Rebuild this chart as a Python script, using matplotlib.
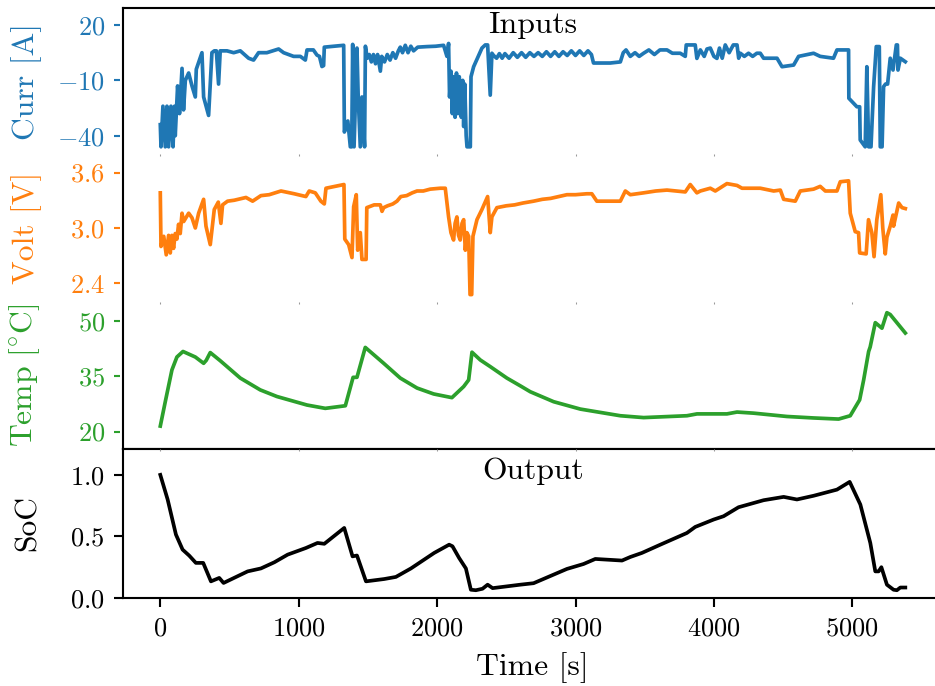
import matplotlib
matplotlib.use('Agg')
from matplotlib import pyplot as plt

plt.rcParams['font.family'] = 'serif'
plt.rcParams['font.serif'] = ['cmr10']
plt.rcParams['mathtext.fontset'] = 'cm'
plt.rcParams['axes.formatter.use_mathtext'] = True

# current [A], (time [s], value)
curr = [(0, -34), (5, -46), (19, -24), (36, -46), (48, -24), (60, -46), (77, -24), (92, -46),
        (103, -24), (108, -40), (125, -13), (139, -28), (157, -3.5), (168, -26), (181, -10),
        (205, -6), (229, -13), (253, -19), (260, -4), (301, 5), (313, -19), (349, -29), (373, 5),
        (390, 6), (405, 6), (421, -12), (433, 6), (482, 6), (530, 5), (578, 6), (638, 2), (674, 1),
        (710, 5), (770, 5), (855, 7), (891, 5), (963, 3), (1012, 3), (1048, 1), (1060, 6.5),
        (1106, 6.5), (1132, 3.7), (1150, 3), (1168, -2.5), (1180, -2), (1185, 8), (1325, 9),
        (1330, -38), (1355, -32), (1373, -46), (1383, -46), (1390, 9.5), (1400, -46), (1421, 7.5),
        (1430, -19), (1445, -46), (1457, -19), (1476, -46), (1482, 8.5), (1495, 2), (1510, 4),
        (1525, 0), (1540, 4), (1555, -1), (1570, 4), (1590, -5), (1600, 3), (1620, 0), (1640, 4),
        (1660, 1), (1680, 5), (1700, 2), (1720, 6), (1734, 8), (1750, 5), (1770, 9), (1790, 5),
        (1810, 8.5), (1830, 6), (1860, 8), (1927, 8.3), (1990, 8.5), (2047, 9), (2071, 3),
        (2083, 10), (2090, -19), (2100, -5), (2110, -28), (2120, -8), (2130, -30), (2140, -6),
        (2150, -28), (2160, -8), (2175, -30), (2185, -10), (2192, -35), (2200, -12), (2210, -40),
        (2216, -46), (2240, -46), (2245, -8), (2264, -2.6), (2324, 7.5), (2348, 9.2), (2365, 9.2),
        (2384, -18), (2396, 4.7), (2408, 3.5), (2430, 2), (2450, 4.5), (2470, 2), (2490, 4.5),
        (2520, 2), (2550, 5), (2580, 2.5), (2610, 5), (2640, 2.5), (2670, 5), (2700, 3), (2730, 5),
        (2760, 3), (2790, 5.5), (2820, 3), (2850, 5.5), (2880, 3), (2910, 5.5), (2940, 3.5),
        (2970, 6), (3000, 3.5), (3030, 6), (3060, 3.5), (3090, 6), (3115, 4), (3130, -0.6),
        (3251, -0.6), (3324, 0), (3345, 5), (3365, 6.5), (3396, 3), (3430, 5), (3460, 3),
        (3492, 4.7), (3530, 6.5), (3570, 4), (3610, 6.5), (3661, 6.5), (3700, 4.7), (3757, 4.7),
        (3793, 3), (3800, 9.2), (3865, 9.2), (3877, 1.9), (3902, 6.5), (3930, 3), (3950, 7),
        (3974, 7.5), (4000, 3), (4022, 1.9), (4040, 7.5), (4060, 2), (4082, 9.2), (4110, 5),
        (4140, 9.2), (4167, 9.2), (4179, 2), (4191, 4.7), (4220, 3), (4250, 4.7), (4280, 3),
        (4310, 4.7), (4335, 4.7), (4359, 2), (4456, 2), (4492, -2.6), (4576, -1.7), (4612, 3),
        (4720, 4.7), (4768, 3), (4864, 2), (4889, 6.5), (4973, 6.5), (4975, -19.7), (5033, -24.3),
        (5053, -24.3), (5057, -42.3), (5093, -46), (5105, -2.6), (5118, -46), (5135, -46),
        (5154, -13.4), (5173, 8.3), (5195, 8.3), (5202, -46), (5215, -46), (5226, -13.4),
        (5240, -12), (5255, -12), (5274, 2), (5294, -4.4), (5318, 9.2), (5326, 9.2), (5330, -4.4),
        (5347, 2), (5383, 0.1)]

# voltage [V]
volt = [(0, 3.38), (5, 2.80), (25, 2.91), (43, 2.71), (60, 2.92), (72, 2.73), (84, 2.92), (96, 2.78),
        (108, 2.94), (120, 2.88), (132, 3.04), (144, 2.94), (157, 3.16), (169, 3.07), (205, 3.16),
        (229, 3.11), (253, 3.00), (277, 3.16), (313, 3.31), (330, 3.02), (361, 2.82), (390, 3.20),
        (419, 3.28), (438, 3.05), (450, 3.25), (486, 3.29), (534, 3.30), (619, 3.33), (667, 3.29),
        (727, 3.35), (787, 3.36), (872, 3.40), (968, 3.37), (1052, 3.34), (1076, 3.40),
        (1120, 3.38), (1160, 3.29), (1185, 3.26), (1197, 3.43), (1327, 3.47), (1333, 2.88),
        (1361, 2.82), (1385, 2.68), (1397, 3.23), (1416, 3.36), (1426, 2.76), (1445, 2.95),
        (1457, 2.66), (1487, 2.66), (1492, 3.22), (1545, 3.25), (1590, 3.25), (1602, 3.18),
        (1614, 3.22), (1642, 3.24), (1680, 3.26), (1710, 3.29), (1738, 3.34), (1780, 3.35),
        (1820, 3.38), (1855, 3.40), (1900, 3.40), (1950, 3.42), (2023, 3.43), (2059, 3.43),
        (2083, 3.12), (2100, 2.95), (2119, 2.87), (2130, 3.05), (2143, 3.12), (2155, 2.92),
        (2167, 2.87), (2180, 3.05), (2192, 3.09), (2204, 2.76), (2215, 2.95), (2228, 2.91),
        (2238, 2.28), (2250, 2.28), (2259, 2.91), (2288, 3.09), (2324, 3.20), (2365, 3.34),
        (2384, 2.95), (2396, 3.12), (2432, 3.22), (2500, 3.24), (2560, 3.25), (2620, 3.27),
        (2697, 3.29), (2760, 3.31), (2820, 3.32), (2880, 3.34), (2938, 3.36), (3000, 3.36),
        (3082, 3.37), (3118, 3.37), (3154, 3.29), (3275, 3.29), (3324, 3.29), (3360, 3.40),
        (3396, 3.36), (3492, 3.38), (3580, 3.40), (3661, 3.41), (3793, 3.39), (3829, 3.47),
        (3877, 3.38), (3902, 3.40), (3974, 3.43), (4010, 3.40), (4094, 3.48), (4167, 3.46),
        (4203, 3.43), (4335, 3.43), (4432, 3.40), (4480, 3.41), (4504, 3.31), (4588, 3.29),
        (4624, 3.40), (4720, 3.42), (4768, 3.45), (4805, 3.40), (4889, 3.40), (4913, 3.50),
        (4973, 3.51), (4985, 3.16), (5021, 2.96), (5045, 2.95), (5053, 2.73), (5100, 2.72),
        (5117, 3.09), (5141, 2.95), (5157, 2.69), (5177, 3.09), (5206, 3.36), (5220, 3.00),
        (5238, 2.72), (5250, 2.90), (5274, 3.02), (5294, 3.14), (5298, 3.02), (5335, 3.27),
        (5359, 3.22), (5383, 3.21)]

# temperature [C]
temp = [(0, 21.5), (36, 28.1), (84, 36.7), (120, 40.2), (164, 41.7), (253, 40.2), (313, 38.5),
        (332, 39.3), (361, 41.4), (433, 39.2), (578, 34.5), (722, 31.3), (843, 29.5), (1060, 27.2),
        (1192, 26.3), (1337, 27.0), (1393, 34.7), (1421, 34.7), (1481, 42.8), (1614, 38.5),
        (1734, 34.5), (1855, 31.8), (1975, 30.2), (2107, 29.2), (2192, 32.2), (2228, 34.0),
        (2252, 41.5), (2312, 39.4), (2384, 37.6), (2504, 34.5), (2601, 32.4), (2673, 30.8),
        (2842, 28.1), (3035, 26.1), (3324, 24.3), (3492, 23.8), (3805, 24.3), (3878, 24.8),
        (4094, 24.8), (4167, 25.3), (4287, 25.0), (4528, 24.1), (4720, 23.7), (4901, 23.4),
        (4985, 24.3), (5053, 28.6), (5082, 34.0), (5118, 41.7), (5129, 42.9), (5166, 49.5),
        (5214, 48.0), (5250, 52.2), (5274, 51.7), (5383, 46.7)]

# state of charge
soc = [(0, 1.0), (53, 0.80), (113, 0.515), (161, 0.393), (209, 0.344), (257, 0.285), (310, 0.285),
       (366, 0.135), (426, 0.163), (457, 0.122), (631, 0.216), (727, 0.24), (824, 0.29),
       (920, 0.352), (1052, 0.406), (1136, 0.447), (1185, 0.44), (1329, 0.569), (1389, 0.338),
       (1421, 0.345), (1486, 0.135), (1618, 0.154), (1702, 0.171), (1811, 0.24), (1979, 0.366),
       (2087, 0.433), (2111, 0.42), (2159, 0.325), (2208, 0.24), (2244, 0.067), (2280, 0.063),
       (2328, 0.075), (2365, 0.108), (2401, 0.08), (2601, 0.108), (2697, 0.12), (2938, 0.236),
       (3058, 0.276), (3143, 0.317), (3336, 0.304), (3396, 0.333), (3480, 0.366), (3613, 0.433),
       (3805, 0.528), (3865, 0.577), (3998, 0.637), (4070, 0.664), (4178, 0.737), (4359, 0.794),
       (4504, 0.821), (4600, 0.80), (4720, 0.83), (4889, 0.88), (4981, 0.943), (5058, 0.759),
       (5130, 0.447), (5166, 0.216), (5190, 0.216), (5210, 0.25), (5250, 0.108), (5298, 0.067),
       (5322, 0.063), (5347, 0.085), (5383, 0.085)]

x_ticks = [0, 1000, 2000, 3000, 4000, 5000]

fig = plt.figure(figsize=(935 / 190, 686 / 190), dpi=190)
L, W = 0.1316, 0.8765

# frame round the three input panels
frame = fig.add_axes([L, 0.3455, W, 0.9883 - 0.3455])
frame.set_xticks([])
frame.set_yticks([])

ax4 = fig.add_axes([L, 0.1283, W, 0.2172])
ax1 = fig.add_axes([L, 0.7755, W, 0.2128], sharex=ax4)
ax2 = fig.add_axes([L, 0.5598, W, 0.2157], sharex=ax4)
ax3 = fig.add_axes([L, 0.3455, W, 0.2143], sharex=ax4)

lw = 1.4
inputs = [(ax1, curr, 'C0', 'Curr [A]', (-49.9, 29.2), [-40, -10, 20]),
          (ax2, volt, 'C1', 'Volt [V]', (2.2, 3.8), [2.4, 3.0, 3.6]),
          (ax3, temp, 'C2', r'$\mathrm{Temp\ [^{\circ}C]}$', (15.3, 55.1), [20, 35, 50])]
for ax, data, c, lab, lim, ticks in inputs:
    t, y = zip(*data)
    ax.plot(t, y, color=c, lw=lw)
    ax.patch.set_visible(False)
    for s in ['top', 'right', 'bottom']:
        ax.spines[s].set_visible(False)
    ax.spines['left'].set_position(('outward', 1.2))
    ax.spines['left'].set_visible(False)
    ax.set_ylim(lim)
    ax.set_yticks(ticks)
    ax.tick_params(axis='y', colors=c, labelsize=10, length=2.1)
    ax.tick_params(axis='x', length=0.8, width=0.4, color='0.6', labelbottom=False)
    ax.set_ylabel(lab, color=c, fontsize=12)
    ax.yaxis.set_label_coords(-0.099, 0.5)

ax1.text(0.5, 0.827, 'Inputs', transform=ax1.transAxes, ha='center', va='baseline', fontsize=12)

t, y = zip(*soc)
ax4.plot(t, y, color='k', lw=lw)
ax4.set_ylim(0, 1.21)
ax4.set_yticks([0.0, 0.5, 1.0])
ax4.set_xticks(x_ticks)
ax4.tick_params(labelsize=10)
ax4.set_ylabel('SoC', fontsize=12)
ax4.yaxis.set_label_coords(-0.099, 0.5)
ax4.set_xlabel('Time [s]', fontsize=12)
ax4.xaxis.set_label_coords(0.5, -0.36)
ax4.text(0.5, 0.797, 'Output', transform=ax4.transAxes, ha='center', va='baseline', fontsize=12)

fig.savefig('out.png', dpi=190)
